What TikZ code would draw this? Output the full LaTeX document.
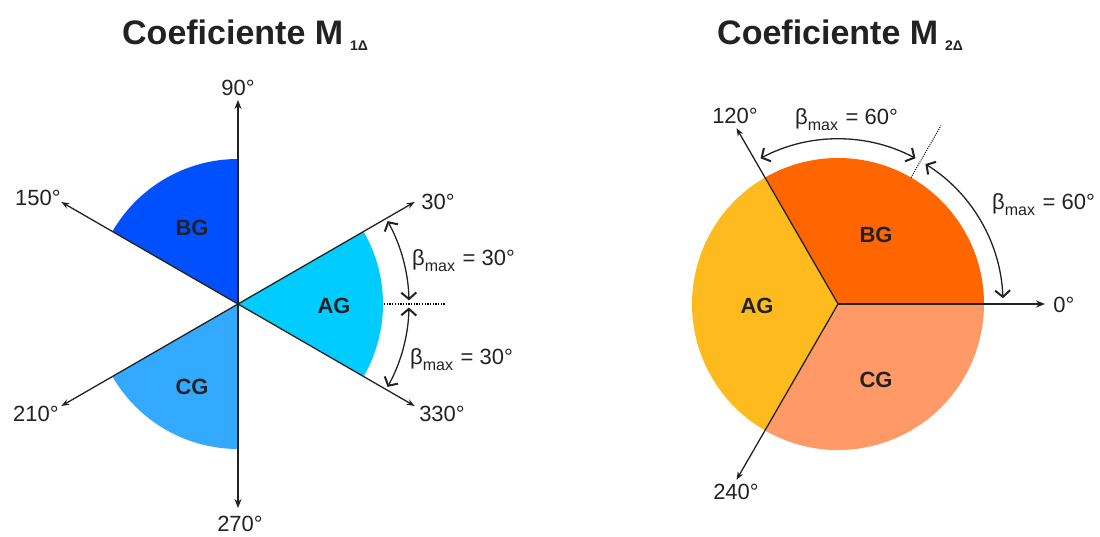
\documentclass[tikz,border=0pt]{standalone}
\usepackage{fontspec}
\setmainfont{Liberation Sans}
\usetikzlibrary{arrows.meta,calc}
\definecolor{txt}{HTML}{222222}
\definecolor{bgL}{HTML}{0050FF}
\definecolor{agL}{HTML}{00CCFF}
\definecolor{cgL}{HTML}{33AAFF}
\definecolor{bgR}{HTML}{FF6600}
\definecolor{agR}{HTML}{FFBB1E}
\definecolor{cgR}{HTML}{FF9966}
\newcommand{\bmax}[1]{β\raisebox{-6pt}{\fontsize{16}{16}\selectfont max}\hspace{1.5pt} = #1}
\begin{document}
\begin{tikzpicture}[x=1pt,y=1pt,
  ray/.style={draw=txt, line width=1.3pt, -{Stealth[length=8pt,width=6pt]}},
  axis/.style={draw=txt, line width=2.4pt, -{Stealth[length=9pt,width=7pt]}},
  lbl/.style={text=txt, font=\fontsize{22}{22}\selectfont, inner sep=0pt},
  sect/.style={text=txt, font=\fontsize{22}{22}\selectfont\bfseries, inner sep=0pt},
  ttl/.style={text=txt, font=\fontsize{34}{34}\selectfont\bfseries, inner sep=0pt, anchor=base west},
  sub/.style={text=txt, font=\fontsize{14}{14}\selectfont\bfseries, inner sep=0pt, anchor=base west},
  betaarc/.style={draw=txt, line width=1.3pt,
    {Straight Barb[length=6.5pt,width=15pt,line width=2pt]}-{Straight Barb[length=6.5pt,width=15pt,line width=2pt]}},
  dotline/.style={draw=black, line width=1.3pt, dash pattern=on 1.3pt off 1.4pt}]
\useasboundingbox (0,0) rectangle (1100,537);

% ---------- Left diagram ----------
\coordinate (L) at (238,233);
\fill[bgL] (L) -- ($(L)+(90:145)$) arc[start angle=90, end angle=150, radius=145] -- cycle;
\fill[cgL] (L) -- ($(L)+(210:145)$) arc[start angle=210, end angle=270, radius=145] -- cycle;
\fill[agL] (L) -- ($(L)+(-30:145)$) arc[start angle=-30, end angle=30, radius=145] -- cycle;

\coordinate (L30) at ($(L)+(30:204)$);
\coordinate (L150) at ($(L)+(150:204)$);
\coordinate (L210) at ($(L)+(210:204)$);
\coordinate (L330) at ($(L)+(330:204)$);
\coordinate (L90) at ($(L)+(90:204)$);
\coordinate (L270) at ($(L)+(270:204)$);
\draw[ray] (L) -- (L30);
\draw[ray] (L) -- (L150);
\draw[ray] (L) -- (L210);
\draw[ray] (L) -- (L330);
\draw[axis] (L) -- (L90);
\draw[axis] (L) -- (L270);

\coordinate (Ld1) at ($(L)+(0:146)$);
\coordinate (Ld2) at ($(L)+(0:207)$);
\draw[dotline] (Ld1) -- (Ld2);

\coordinate (La1) at ($(L)+(29:171)$);
\coordinate (La2) at ($(L)+(-1.2:171)$);
\draw[betaarc] (La1) arc[start angle=29, end angle=1.2, radius=171];
\draw[betaarc] (La2) arc[start angle=-1.2, end angle=-29, radius=171];

\node[lbl] (t90) at (238,449) {90°};
\node[lbl] (t270) at (240,13) {270°};
\node[lbl] (t150) at (38,339) {150°};
\node[lbl] (t210) at (36,123) {210°};
\node[lbl] (t30) at (438,335) {30°};
\node[lbl] (t330) at (442,123) {330°};
\node[lbl, anchor=base west] (bL1) at (412,271) {\bmax{30°}};
\node[lbl, anchor=base west] (bL2) at (410,172) {\bmax{30°}};

\node[sect] (BGL) at (192,309) {BG};
\node[sect] (CGL) at (192,150) {CG};
\node[sect] (AGL) at (334,231) {AG};

\node[ttl] (T1) at (122,492) {Coeficiente M};
\node[sub] (S1) at (350,486) {1Δ};

% ---------- Right diagram ----------
\coordinate (R) at (838,233);
\fill[bgR] (R) -- ($(R)+(0:146)$) arc[start angle=0, end angle=120, radius=146] -- cycle;
\fill[agR] (R) -- ($(R)+(120:146)$) arc[start angle=120, end angle=240, radius=146] -- cycle;
\fill[cgR] (R) -- ($(R)+(240:146)$) arc[start angle=240, end angle=360, radius=146] -- cycle;

\coordinate (R0) at ($(R)+(0:207)$);
\coordinate (R120) at ($(R)+(120:203)$);
\coordinate (R240) at ($(R)+(240:203)$);
\draw[draw=txt, line width=2pt, -{Stealth[length=9pt,width=7pt]}] (R) -- (R0);
\draw[ray] (R) -- (R120);
\draw[ray] (R) -- (R240);

\coordinate (Rd1) at ($(R)+(60:146)$);
\coordinate (Rd2) at ($(R)+(60:206)$);
\draw[draw=black, line width=1pt, dash pattern=on 1pt off 1.2pt] (Rd1) -- (Rd2);

\coordinate (Ra1) at ($(R)+(118:165)$);
\coordinate (Ra2) at ($(R)+(58:165)$);
\draw[betaarc] (Ra1) arc[start angle=118, end angle=62, radius=165];
\draw[betaarc] (Ra2) arc[start angle=58, end angle=2, radius=165];

\node[lbl] (t120) at (735,421) {120°};
\node[lbl] (t240) at (736,45) {240°};
\node[lbl] (t0) at (1064,232) {0°};
\node[lbl, anchor=base west] (bR1) at (795,412) {\bmax{60°}};
\node[lbl, anchor=base west] (bR2) at (992,327) {\bmax{60°}};

\node[sect] (BGR) at (876,302) {BG};
\node[sect] (AGR) at (757,231) {AG};
\node[sect] (CGR) at (876,157) {CG};

\node[ttl] (T2) at (717,492) {Coeficiente M};
\node[sub] (S2) at (945,486) {2Δ};
\end{tikzpicture}
\end{document}
